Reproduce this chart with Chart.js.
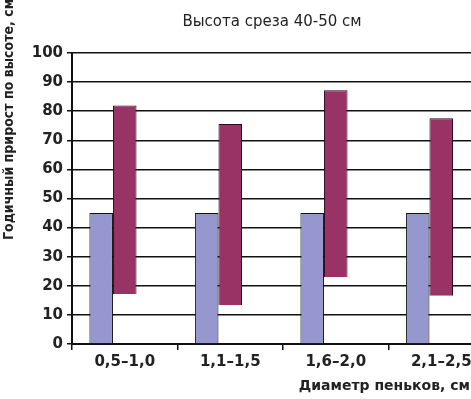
<!DOCTYPE html>
<html>
<head>
<meta charset="utf-8">
<script src="https://cdn.jsdelivr.net/npm/chart.js@4/dist/chart.umd.min.js"></script>
<style>
  html, body { margin: 0; padding: 0; background: #fff; overflow: hidden; }
  #wrap { width: 471px; height: 399px; overflow: hidden; position: relative; }
  #box { width: 495px; height: 399px; position: absolute; left: 0; top: 0; }
</style>
</head>
<body>
<div id="wrap"><div id="box"><canvas id="chart"></canvas></div></div>
<script>
// данные
const categories = ['0,5–1,0', '1,1–1,5', '1,6–2,0', '2,1–2,5'];
const baseValues = [45, 45, 45, 45];
const lowValues = [17.2, 13.3, 23, 16.6];
const highValues = [82, 75.6, 87.2, 77.6];
const yTicks = [0, 10, 20, 30, 40, 50, 60, 70, 80, 90, 100];

const chartTitle = 'Высота среза 40-50 см';
const yTitle = 'Годичный прирост по высоте, см';
const xTitle = 'Диаметр пеньков, см';

const FONT = "'DejaVu Sans', sans-serif";
const NARROW = "'DejaVu Sans Condensed', 'Liberation Sans', sans-serif";

// подписи рисуем сами, чтобы поставить их как на оригинале
const labelsPlugin = {
    id: 'labels',
    afterDraw(chart) {
        const ctx = chart.ctx;
        ctx.save();
        ctx.fillStyle = '#222';
        ctx.textBaseline = 'middle';

        ctx.font = 'normal 15px ' + FONT;
        ctx.textAlign = 'center';
        ctx.fillText(chartTitle, 272, 22);

        ctx.font = 'bold 14px ' + FONT;
        ctx.textAlign = 'right';
        ctx.fillText(xTitle, 470, 386);

        ctx.translate(9, 240);
        ctx.rotate(-Math.PI / 2);
        ctx.textAlign = 'left';
        ctx.font = 'bold 14px ' + NARROW;
        ctx.fillText(yTitle, 0, 0);
        ctx.restore();
    }
};

let bar = new Chart(document.getElementById('chart'), {
    type: 'bar',
    data: {
        labels: categories,
        datasets: [{
            label: 'base',
            data: baseValues,
            backgroundColor: '#9797cf',
            borderColor: '#111',
            borderWidth: 1
        }, {
            label: 'range',
            data: lowValues.map((v, i) => [v, highValues[i]]),
            backgroundColor: '#993366',
            borderColor: '#2a0a18',
            borderWidth: 1
        }, {
            label: 'empty',
            data: categories.map(() => null),
            backgroundColor: 'rgba(0,0,0,0)'
        }]
    },
    options: {
        responsive: true,
        maintainAspectRatio: false,
        animation: false,
        categoryPercentage: 0.67,
        barPercentage: 1,
        layout: { padding: { top: 53, left: 0, right: 1, bottom: 0 } },
        scales: {
            x: {
                grid: {
                    drawOnChartArea: false,
                    drawTicks: true,
                    tickLength: 6,
                    color: '#111',
                    lineWidth: 1.5
                },
                border: { color: '#111', width: 2 },
                ticks: {
                    color: '#222',
                    padding: 3,
                    font: { family: FONT, size: 15, weight: 'bold' }
                },
                afterFit(scale) { scale.height = 55; }
            },
            y: {
                min: 0,
                max: 100,
                afterBuildTicks(scale) { scale.ticks = yTicks.map(v => ({ value: v })); },
                grid: {
                    color: '#111',
                    lineWidth: 1.5,
                    tickLength: 5
                },
                border: { color: '#111', width: 2 },
                ticks: {
                    color: '#222',
                    padding: 4,
                    font: { family: FONT, size: 15, weight: 'bold' }
                },
                afterFit(scale) { scale.width = 72; }
            }
        },
        plugins: {
            legend: { display: false },
            tooltip: { enabled: false }
        }
    },
    plugins: [labelsPlugin]
});
</script>
</body>
</html>
